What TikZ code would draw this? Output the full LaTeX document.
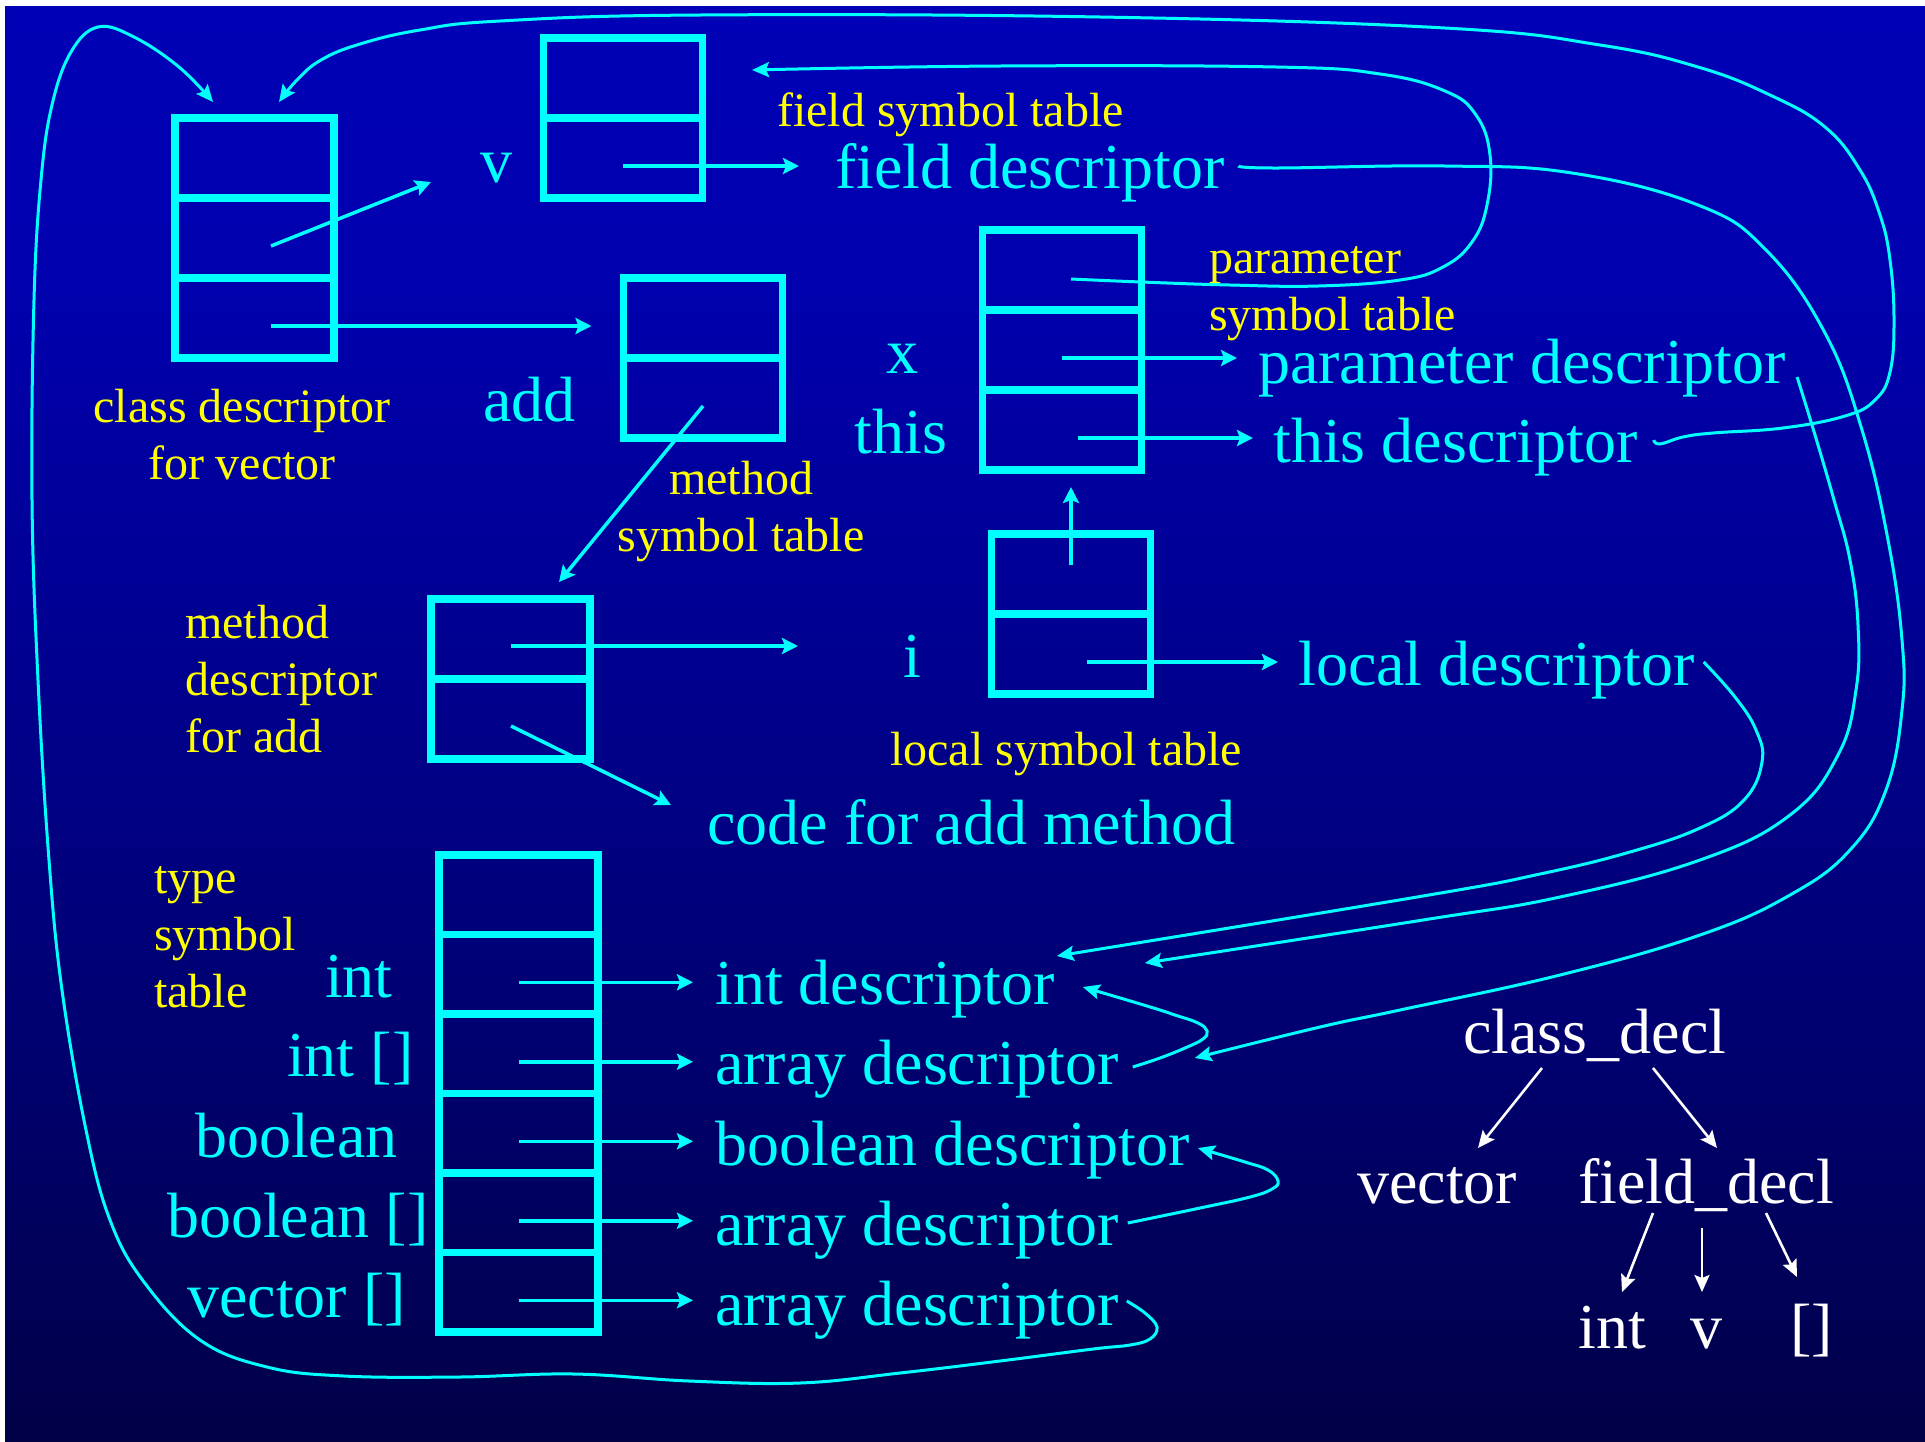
\documentclass[tikz,border=0pt]{standalone}
\usepackage{fontspec}
\setmainfont{Liberation Serif}
\usetikzlibrary{arrows.meta,calc}
\definecolor{cy}{RGB}{0,255,255}
\definecolor{ye}{RGB}{255,255,0}
\pgfdeclareverticalshading{slidebg}{100bp}{rgb(0bp)=(0,0,0); rgb(8bp)=(0,0,0.08); rgb(20bp)=(0,0,0.22); rgb(38bp)=(0,0,0.43); rgb(65bp)=(0,0,0.68); rgb(100bp)=(0,0,0.8)}
\begin{document}
\begin{tikzpicture}[x=1pt,y=-1pt,
  cell/.style={draw=cy, line width=7.5pt, minimum width=159pt, minimum height=80pt, inner sep=0pt, outer sep=0pt},
  tcell/.style={cell, minimum height=79.5pt},
  arr/.style={draw=cy, line width=3.5pt, -{Stealth[length=16pt,width=16pt,inset=3pt]}},
  crv/.style={draw=cy, line width=3pt, -{Stealth[length=17pt,width=15pt,inset=3pt]}},
  tarr/.style={draw=white, line width=2.6pt, -{Stealth[length=17pt,width=15pt,inset=3pt]}},
  cyt/.style={text=cy, font=\fontsize{64}{76}\selectfont, inner sep=0pt, anchor=base west},
  ylt/.style={text=ye, font=\fontsize{48}{57}\selectfont, inner sep=0pt},
  wht/.style={text=white, font=\fontsize{64}{76}\selectfont, inner sep=0pt, anchor=base west}]
\useasboundingbox (0,0) rectangle (1925,1441);
\fill[white] (0,0) rectangle (1925,1441);
\shade[shading=slidebg] (5,6) rectangle (1925,1441);

% ---------- table cells ----------
\foreach \n/\x/\y in {cv1/254.5/158, cv2/254.5/238, cv3/254.5/318,
  f1/623/78, f2/623/158, m1/703/318, m2/703/398,
  p1/1062/270, p2/1062/350, p3/1062/430,
  md1/510.5/639, md2/510.5/719, l1/1071/574, l2/1071/654}
  \node[cell] (\n) at (\x,\y) {};
\foreach \n/\y in {t1/894.75, t2/974.25, t3/1053.75, t4/1133.25, t5/1212.75, t6/1292.25}
  \node[tcell] (\n) at (518.5,\y) {};

% ---------- cyan texts ----------
\node[cyt] (v) at (480,182) {v};
\node[cyt] (fdesc) at (835,188) {field descriptor};
\node[cyt] (add) at (483,421) {add};
\node[cyt, anchor=base] (x) at (902,373) {x};
\node[cyt, anchor=base] (this) at (901,453) {this};
\node[cyt] (pdesc) at (1258,383) {parameter descriptor};
\node[cyt] (tdesc) at (1273,462) {this descriptor};
\node[cyt] (i) at (903,677) {i};
\node[cyt] (ldesc) at (1298,685) {local descriptor};
\node[cyt] (code) at (707,844) {code for add method};
\node[cyt] (nint) at (325,997) {int};
\node[cyt] (nintarr) at (287,1076) {int []};
\node[cyt] (nbool) at (195,1157) {boolean};
\node[cyt] (nboolarr) at (167,1237) {boolean []};
\node[cyt] (nvecarr) at (187,1317) {vector []};
\node[cyt] (intd) at (715,1004) {int descriptor};
\node[cyt] (ad2) at (715,1084) {array descriptor};
\node[cyt] (bd) at (715,1165) {boolean descriptor};
\node[cyt] (ad4) at (715,1245) {array descriptor};
\node[cyt] (ad5) at (715,1325) {array descriptor};

% ---------- yellow labels (base = last line) ----------
\node[ylt, anchor=base west] (fst) at (777,126) {field symbol table};
\node[ylt, anchor=base, align=center] (cdl) at (242,479) {class descriptor\\for vector};
\node[ylt, anchor=base west, align=left] (pst) at (1209,330) {parameter\\symbol table};
\node[ylt, anchor=base, align=center] (mst) at (741,551) {method\\symbol table};
\node[ylt, anchor=base west, align=left] (mdl) at (185,752) {method\\descriptor\\for add};
\node[ylt, anchor=base west] (lst) at (890,765) {local symbol table};
\node[ylt, anchor=base west, align=left] (tst) at (154,1007) {type\\symbol\\table};

% ---------- white tree ----------
\node[wht] (cd) at (1463,1053) {class\_decl};
\node[wht] (vec) at (1357,1203) {vector};
\node[wht] (fdl) at (1578,1203) {field\_decl};
\node[wht] (ti) at (1578,1348) {int};
\node[wht] (tv) at (1690,1348) {v};
\node[wht] (tb) at (1790,1348) {[]};
\draw[tarr] ([shift={(79,15)}]cd.base west) -- ([shift={(121,-55)}]vec.base west);
\draw[tarr] ([shift={(190,15)}]cd.base west) -- ([shift={(139,-55)}]fdl.base west);
\draw[tarr] ([shift={(75,10)}]fdl.base west) -- ([shift={(44,-56)}]ti.base west);
\draw[tarr] ([shift={(124,25)}]fdl.base west) -- ([shift={(12,-56)}]tv.base west);
\draw[tarr] ([shift={(188,10)}]fdl.base west) -- ([shift={(7,-71)}]tb.base west);

% ---------- straight arrows ----------
\draw[arr] ([shift={(16.5,8)}]cv2.center) -- ([shift={(-49,0)}]v.base west);
\draw[arr] ([shift={(16.5,8)}]cv3.center) -- ([shift={(-32,8)}]m1.west);
\draw[arr] ([shift={(0,8)}]f2.center) coordinate (f2s) -- ($(f2s -| fdesc.west)+(-36,0)$);
\draw[arr] ([shift={(0,8)}]m2.center) -- ([shift={(48.5,-17)}]md1.north);
\coordinate (mdtip) at (798,646);
\draw[arr] ([shift={(0.5,7)}]md1.center) -- (mdtip);
\draw[arr] ([shift={(0.5,7)}]md2.center) -- ([shift={(-36,-39)}]code.base west);
\draw[arr] ([shift={(0,8)}]p2.center) coordinate (p2s) -- ($(p2s -| pdesc.west)+(-21,0)$);
\draw[arr] ([shift={(16,8)}]p3.center) coordinate (p3s) -- ($(p3s -| tdesc.west)+(-20,0)$);
\draw[arr] ([shift={(0,-9)}]l1.center) -- ([shift={(9,17)}]p3.south);
\draw[arr] ([shift={(16,8)}]l2.center) coordinate (l2s) -- ($(l2s -| ldesc.west)+(-20,0)$);
\foreach \c/\d in {t2/intd, t3/ad2, t4/bd, t5/ad4, t6/ad5}
  \draw[arr] ([shift={(0,8)}]\c.center) coordinate (s) -- ($(s -| \d.west)+(-22,0)$);

% ---------- curved connectors ----------
\coordinate (c1s) at ([shift={(8,-24)}]ad5.base east);
\coordinate (c1e) at ([shift={(-41.5,-16)}]cv1.north);
\draw[crv] plot[smooth, tension=0.65] coordinates {(c1s) (1145,1313) (1157,1327) (1150,1339) (1130,1345) (1093,1349) (1000,1361) (900,1373) (800,1383) (689,1381) (574,1374) (459,1377) (344,1376) (267,1367) (200,1340) (144,1282) (110,1220) (86,1130) (62,990) (49,860) (38,680) (32,500) (34,300) (41,180) (52,105) (71,52) (98,27) (134,37) (179,67) (c1e)};

\coordinate (c2s) at ([shift={(16,-22)}]tdesc.base east);
\coordinate (c2e) at ([shift={(24.5,-16)}]cv1.north);
\draw[crv] plot[smooth, tension=0.7] coordinates {(c2s) (1660,444) (1683,437) (1713,433) (1783,428) (1845,416) (1875,400) (1890,372) (1894,320) (1890,260) (1880,215) (1860,170) (1825,127) (1770,95) (1698,67) (1600,45) (1445,28) (1100,17) (700,15) (500,21) (420,30) (360,44) (321,60) (297,80) (c2e)};

\coordinate (c3s) at ([shift={(9,9)}]p1.center);
\coordinate (c3e) at ([shift={(49.5,-8)}]f1.east);
\draw[crv] plot[smooth, tension=0.7] coordinates {(c3s) (1141,282) (1230,285) (1318,286) (1400,280) (1443,267) (1472,242) (1487,205) (1490,155) (1476,115) (1445,91) (1380,74) (1276,67) (1000,66) (c3e)};

\coordinate (c4s) at ([shift={(14,-22)}]fdesc.base east);
\coordinate (c4e) at ([shift={(76,-26)}]ad2.base east);
\draw[crv] plot[smooth, tension=0.7] coordinates {(c4s) (1276,168) (1445,166) (1572,173) (1698,205) (1766,250) (1825,333) (1862,430) (1888,540) (1902,640) (1902,710) (1886,790) (1850,850) (1790,895) (1700,935) (1560,975) (1400,1010) (1320,1027) (c4e)};

\coordinate (c5s) at ([shift={(11,-6)}]pdesc.base east);
\coordinate (c5e) at ([shift={(90,-41)}]intd.base east);
\draw[crv] plot[smooth, tension=0.7] coordinates {(c5s) (1815,435) (1834,500) (1850,560) (1858,625) (1856,690) (1838,755) (1790,815) (1700,860) (1560,897) (1423,920) (c5e)};

\coordinate (c6s) at ([shift={(9,-23)}]ldesc.base east);
\coordinate (c6e) at ([shift={(2,-48)}]intd.base east);
\draw[crv] plot[smooth, tension=0.7] coordinates {(c6s) (1735,697) (1756,730) (1762,762) (1744,800) (1700,828) (1630,852) (1540,874) (1423,896) (c6e)};

\coordinate (c7s) at ([shift={(14,-17)}]ad2.base east);
\coordinate (c7e) at ([shift={(28,-17)}]intd.base east);
\draw[crv] plot[smooth, tension=0.7] coordinates {(c7s) (1160,1058) (1185,1048) (1203,1039) (1207,1031) (1198,1023) (1175,1015) (1147,1006) (c7e)};

\coordinate (c8s) at ([shift={(9,-22)}]ad4.base east);
\coordinate (c8e) at ([shift={(8,-17)}]bd.base east);
\draw[crv] plot[smooth, tension=0.7] coordinates {(c8s) (1200,1208) (1250,1197) (1272,1189) (1278,1181) (1268,1170) (1245,1162) (c8e)};
\end{tikzpicture}
\end{document}
